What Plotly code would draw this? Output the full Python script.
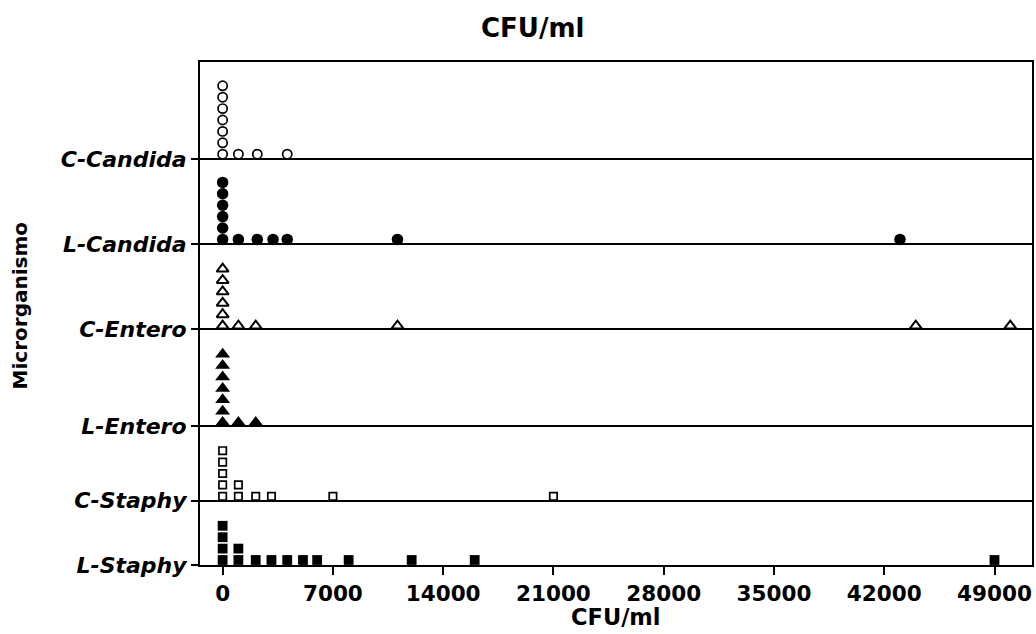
import plotly.graph_objects as go

# ---------------- data ----------------
categories = ["C-Candida", "L-Candida", "C-Entero", "L-Entero", "C-Staphy", "L-Staphy"]

c_candida = [0, 0, 0, 0, 0, 0, 0, 1000, 2200, 4100]
l_candida = [0, 0, 0, 0, 0, 0, 1000, 2200, 3200, 4100, 11100, 43000]
c_entero = [0, 0, 0, 0, 0, 0, 1000, 2100, 11100, 44000, 50000]
l_entero = [0, 0, 0, 0, 0, 0, 0, 1000, 2100]
c_staphy = [0, 0, 0, 0, 0, 1000, 1000, 2100, 3100, 7000, 21000]
l_staphy = [0, 0, 0, 0, 1000, 1000, 2100, 3100, 4100, 5100, 6000, 8000, 12000, 16000, 49000]

x_tick_vals = [0, 7000, 14000, 21000, 28000, 35000, 42000, 49000]
x_tick_text = ["0", "7000", "14000", "21000", "28000", "35000", "42000", "49000"]

series = [c_candida, l_candida, c_entero, l_entero, c_staphy, l_staphy]

# ---------------- layout / style ----------------
# y axis measured in pixel-like units (0 = bottom of plot)
baselines = [406, 321, 235.7, 139, 64.3, 0]
STEP = 11.4
styles = [
    dict(symbol="circle-open", size=9.2, line=dict(width=1.7, color="black"), off=4.8),
    dict(symbol="circle", size=11.5, line=dict(width=0), off=4.6),
    dict(symbol="triangle-up-open", size=10.5, line=dict(width=2, color="black"), off=3.4),
    dict(symbol="triangle-up", size=13, line=dict(width=0), off=3.4),
    dict(symbol="square-open", size=7.4, line=dict(width=1.7, color="black"), off=4.4),
    dict(symbol="square", size=9.8, line=dict(width=0), off=5.0),
]

FONT = "DejaVu Sans"

fig = go.Figure()
for vals, base, st in zip(series, baselines, styles):
    counts = {}
    xs, ys = [], []
    for v in vals:
        k = counts.get(v, 0)
        counts[v] = k + 1
        xs.append(v)
        ys.append(base + st["off"] + k * STEP)
    fig.add_trace(go.Scatter(
        x=xs, y=ys, mode="markers", showlegend=False, hoverinfo="x",
        marker=dict(symbol=st["symbol"], size=st["size"], color="black", line=st["line"]),
        cliponaxis=False,
    ))

fig.update_layout(
    width=1036, height=634,
    margin=dict(l=200, r=2, t=62, b=69),
    paper_bgcolor="white", plot_bgcolor="white",
    font=dict(family=FONT, color="black"),
    xaxis=dict(
        range=[-1437, 51380], tickvals=x_tick_vals, ticktext=["<b>%s</b>" % t for t in x_tick_text],
        tickfont=dict(size=21.5, family=FONT), ticks="outside", ticklen=8, tickwidth=1.5,
        tickcolor="black", showgrid=False, zeroline=False,
        showline=True, linecolor="black", linewidth=2, mirror=True,
    ),
    yaxis=dict(
        range=[0, 503], tickvals=baselines, ticktext=["<b><i>%s</i></b>" % c for c in categories],
        tickfont=dict(size=22, family=FONT), ticks="outside", ticklen=7, tickwidth=2,
        tickcolor="black", showgrid=True, gridcolor="black", gridwidth=2, zeroline=False,
        showline=True, linecolor="black", linewidth=2, mirror=True,
    ),
    annotations=[
        dict(text="<b>CFU/ml</b>", xref="paper", yref="paper", x=(533 - 200) / 834, y=(634 - 28 - 69) / 503,
             xanchor="center", yanchor="middle", showarrow=False, font=dict(size=26, family=FONT)),
        dict(text="<b>CFU/ml</b>", xref="paper", yref="paper", x=0.5, y=(634 - 617 - 69) / 503,
             xanchor="center", yanchor="middle", showarrow=False, font=dict(size=22.5, family=FONT)),
        dict(text="<b>Microrganismo</b>", xref="paper", yref="paper", x=(20 - 200) / 834, y=(634 - 306 - 69) / 503,
             xanchor="center", yanchor="middle", textangle=-90, showarrow=False, font=dict(size=20, family=FONT)),
    ],
)

fig.write_html(
    "out.html",
    config={"displayModeBar": False},
    post_script="document.body.style.margin='0';document.body.style.overflow='hidden';",
)
